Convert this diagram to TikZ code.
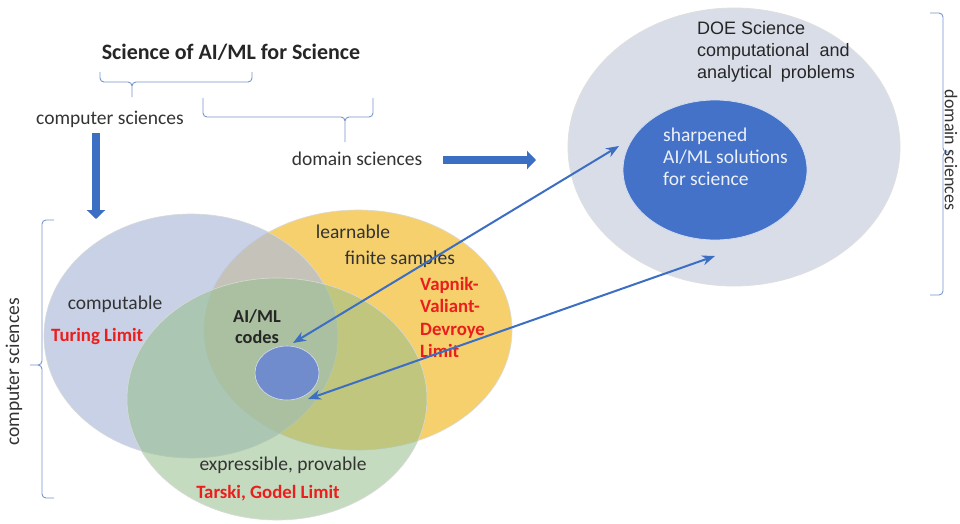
\documentclass[tikz,border=0pt]{standalone}
\usepackage{fontspec}
\setmainfont{Carlito}
\newfontfamily\doefont{Liberation Sans}
\usetikzlibrary{arrows.meta,shapes.geometric}
\definecolor{bluec}{RGB}{178,190,218}
\definecolor{yelc}{RGB}{245,208,108}
\definecolor{grnc}{RGB}{150,190,140}
\definecolor{lred}{RGB}{235,30,30}
\definecolor{brk}{RGB}{120,150,205}
\definecolor{arr}{RGB}{60,110,195}
\definecolor{doec}{RGB}{216,221,232}
\definecolor{innc}{RGB}{68,114,200}
\definecolor{smc}{RGB}{112,140,205}
\tikzset{
  venn/.style={draw=white!70!gray, line width=0.6pt},
  lbl/.style={font=\fontsize{19.5}{23}\selectfont, text=black!80, inner sep=0pt},
  redl/.style={font=\fontsize{18.8}{22.5}\selectfont\bfseries, text=lred, inner sep=0pt, align=left},
  bracket/.style={draw=brk, line width=0.9pt},
  thin arrow/.style={draw=arr, line width=2pt, {Stealth[length=13pt,width=10pt]}-{Stealth[length=13pt,width=10pt]}},
  thick arrow/.style={draw=arr, line width=8pt, -{Triangle[length=9pt,width=18pt]}}
}
\begin{document}
\begin{tikzpicture}[x=1pt,y=-1pt]
\useasboundingbox (0,0) rectangle (960,523);
\fill[white] (0,0) rectangle (960,523);
% Venn circles
\path[venn, fill=yelc] (358,330) ellipse [x radius=154, y radius=120];
\path[venn, fill=bluec, fill opacity=0.7] (191,336) ellipse [x radius=147, y radius=122];
\path[venn, fill=grnc, fill opacity=0.55] (277,399) ellipse [x radius=150, y radius=121];
\node[ellipse, minimum width=64pt, minimum height=54pt, fill=smc, draw=white!70!smc, line width=0.6pt] (small) at (287,373) {};
% DOE ellipse
\node[ellipse, minimum width=332pt, minimum height=278pt, fill=doec, draw=white!75!gray, line width=0.8pt] (doe) at (734,147) {};
\node[ellipse, minimum width=184pt, minimum height=140pt, fill=innc, draw=white!75!innc, line width=0.8pt] (inner) at (715,170) {};
\node[lbl, align=left, anchor=north west, font=\doefont\fontsize{18}{22}\selectfont, text=black!85] (doet) at (697,21) {DOE Science\\computational\hspace{0.3em} and\\analytical\hspace{0.2em} problems};
\node[lbl, align=left, anchor=north west, font=\fontsize{19.5}{22}\selectfont, text=white!90!innc] (innt) at (663,128) {sharpened\\AI/ML solutions\\for science};
% Title and braces
\node[inner sep=0pt, font=\fontsize{22}{26}\selectfont\bfseries, text=black!85] (title) at (231,52) {Science of AI/ML for Science};
\draw[bracket] (100,72) -- (100,78) to[out=-90,in=180] (104,82) -- (128,82) to[out=0,in=90] (132,86) -- (132,97)
  (132,86) to[out=90,in=180] (136,82) -- (248,82) to[out=0,in=-90] (252,78) -- (252,72);
\node[lbl] (cs) at (110,119) {computer sciences};
\draw[bracket] (203,98) -- (203,113) to[out=-90,in=180] (207,117) -- (341,117) to[out=0,in=90] (345,121) -- (345,142)
  (345,121) to[out=90,in=180] (349,117) -- (369,117) to[out=0,in=-90] (373,113) -- (373,98);
\node[lbl] (ds) at (357,159) {domain sciences};
\coordinate (dsend) at (536,160);
\draw[thick arrow] ([xshift=21pt]ds.east |- dsend) -- (dsend);
\coordinate (csend) at (96,219);
\draw[thick arrow] ([yshift=-6pt]cs.south -| csend) -- (csend);
% left bracket
\draw[bracket] (54,220) -- (46,220) to[out=180,in=90] (42,224) -- (42,361) to[out=-90,in=0] (38,365) -- (30,365)
  (38,365) to[out=0,in=90] (42,369) -- (42,494) to[out=-90,in=180] (46,498) -- (54,498);
\node[lbl, rotate=90] (lcs) at (14,372) {computer sciences};
% right bracket
\draw[bracket] (930,13) -- (939,13) to[out=0,in=90] (943,17) -- (943,148) to[out=-90,in=180] (947,152) -- (953,152)
  (947,152) to[out=180,in=90] (943,156) -- (943,291) to[out=-90,in=0] (939,295) -- (930,295);
\node[lbl, rotate=-90, font=\fontsize{18}{20}\selectfont] (rds) at (951,150) {domain sciences};
% Venn labels
\node[lbl] (learn) at (353,232) {learnable};
\node[lbl] (fin) at (400,259) {finite samples};
\node[redl, anchor=north west] (vvd) at (420,277) {Vapnik-\\Valiant-\\Devroye\\Limit};
\node[lbl] (comp) at (115,304) {computable};
\node[redl, anchor=west] (tur) at (51,336) {Turing Limit};
\node[lbl, align=center, font=\fontsize{18.3}{21}\selectfont\bfseries, text=black!85] (aiml) at (257,327) {AI/ML\\codes};
\node[lbl] (expr) at (283,465) {expressible, provable};
\node[redl] (tar) at (268,493) {Tarski, Godel Limit};
% thin arrows
\coordinate (a1s) at (293,343);
\coordinate (a1e) at (619,146);
\coordinate (a2s) at (308,399);
\coordinate (a2e) at (715,256);
\draw[thin arrow] (a1s) -- (a1e);
\draw[thin arrow] (a2s) -- (a2e);
\end{tikzpicture}
\end{document}
